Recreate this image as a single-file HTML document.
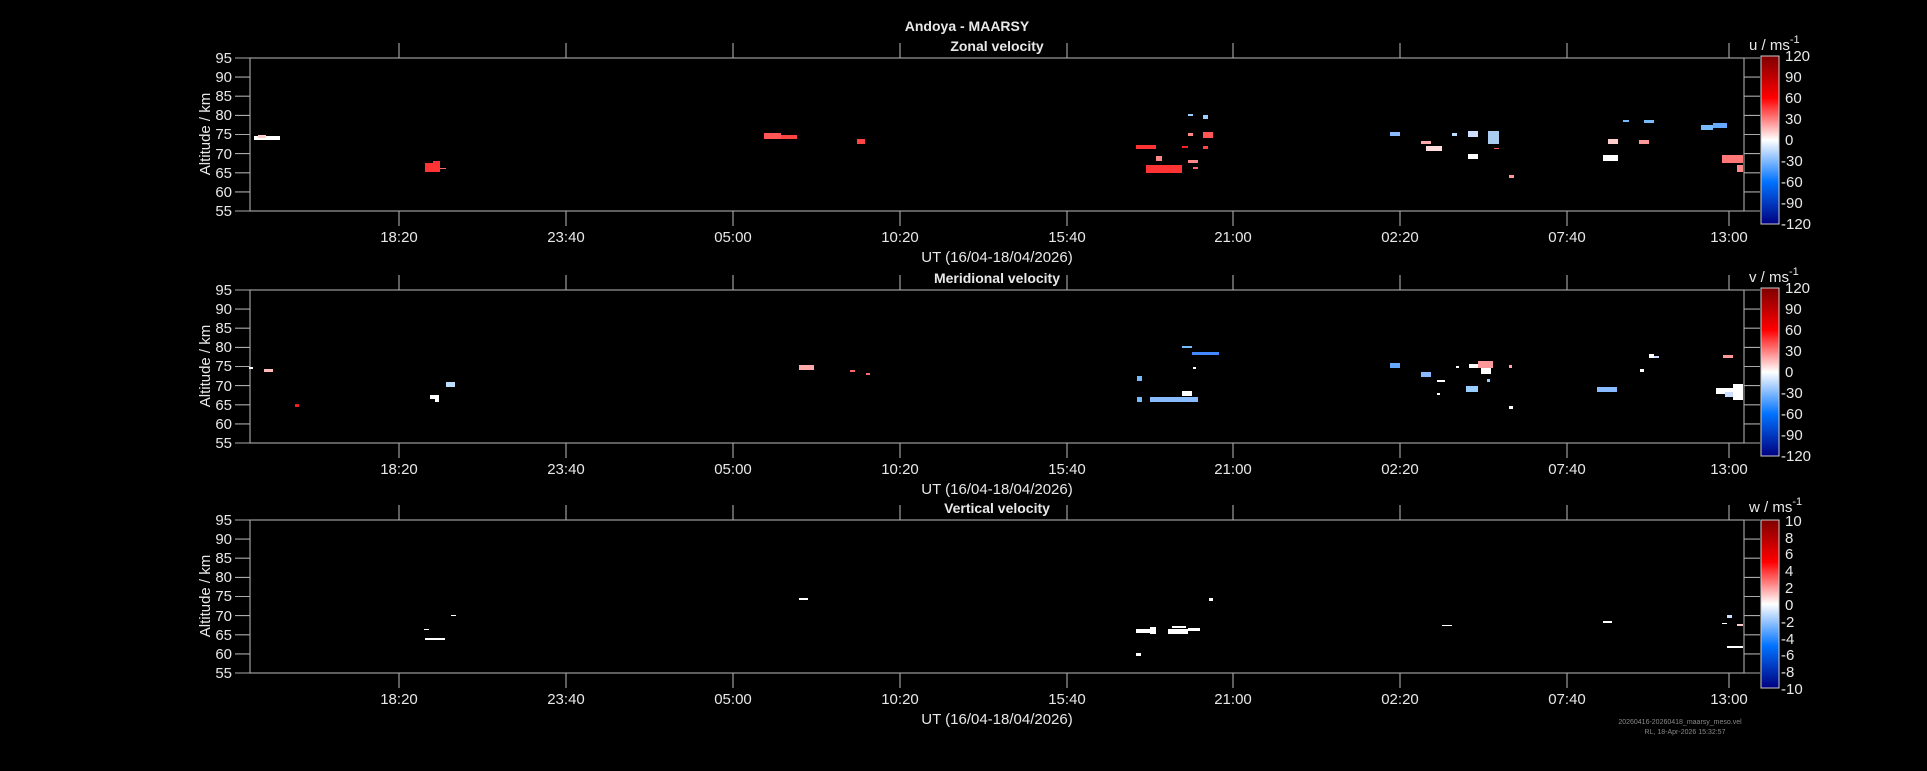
<!DOCTYPE html>
<html><head><meta charset="utf-8"><style>
html,body{margin:0;padding:0;background:#000;}
svg{display:block;font-family:"Liberation Sans",sans-serif;}
text{fill:#e8e8e8;font-size:15px;}
.b{font-weight:bold;font-size:14px;}
</style></head><body>
<svg width="1927" height="771" viewBox="0 0 1927 771" xmlns="http://www.w3.org/2000/svg">
<defs>
<linearGradient id="g" x1="0" y1="1" x2="0" y2="0">
<stop offset="0" stop-color="#00007f"/>
<stop offset="0.25" stop-color="#0072ff"/>
<stop offset="0.5" stop-color="#ffffff"/>
<stop offset="0.75" stop-color="#ff0000"/>
<stop offset="1" stop-color="#7f0000"/>
</linearGradient>
<g id="ax" stroke="#aaa" stroke-width="1.1" fill="none">
<rect x="250" y="0" width="1494" height="153"/>
<path d="M399 0v-15M566 0v-15M733 0v-15M900 0v-15M1067 0v-15M1233 0v-15M1400 0v-15M1567 0v-15M1729 0v-15
M399 153v15M566 153v15M733 153v15M900 153v15M1067 153v15M1233 153v15M1400 153v15M1567 153v15M1729 153v15
M235 0h15M235 19.1h15M235 38.2h15M235 57.4h15M235 76.5h15M235 95.6h15M235 114.8h15M235 133.9h15M235 153h15
M1744 0h16M1744 19.1h16M1744 38.2h16M1744 57.4h16M1744 76.5h16M1744 95.6h16M1744 114.8h16M1744 133.9h16M1744 153h16"/>
</g>
<g id="yl">
<text x="232" y="5" text-anchor="end">95</text><text x="232" y="24" text-anchor="end">90</text>
<text x="232" y="43" text-anchor="end">85</text><text x="232" y="62" text-anchor="end">80</text>
<text x="232" y="81" text-anchor="end">75</text><text x="232" y="101" text-anchor="end">70</text>
<text x="232" y="120" text-anchor="end">65</text><text x="232" y="139" text-anchor="end">60</text>
<text x="232" y="158" text-anchor="end">55</text>
<text transform="translate(210,76) rotate(-90)" text-anchor="middle">Altitude / km</text>
<g text-anchor="middle">
<text x="399" y="184">18:20</text><text x="566" y="184">23:40</text><text x="733" y="184">05:00</text>
<text x="900" y="184">10:20</text><text x="1067" y="184">15:40</text><text x="1233" y="184">21:00</text>
<text x="1400" y="184">02:20</text><text x="1567" y="184">07:40</text><text x="1729" y="184">13:00</text>
<text x="997" y="204">UT (16/04-18/04/2026)</text>
</g>
</g>
</defs>

<text class="b" x="967" y="31" text-anchor="middle">Andoya - MAARSY</text>

<!-- Panel 1 -->
<g transform="translate(0,58)"><use href="#ax"/><use href="#yl"/></g>
<text class="b" x="997" y="51" text-anchor="middle">Zonal velocity</text>
<rect x="1761" y="56" width="18" height="168" fill="url(#g)" stroke="#ccc"/>
<text x="1749" y="50">u / ms<tspan dy="-7" font-size="11">-1</tspan></text>
<g font-size="15">
<text x="1785" y="61">120</text><text x="1785" y="82">90</text><text x="1785" y="103">60</text><text x="1785" y="124">30</text><text x="1785" y="145">0</text><text x="1781" y="166">-30</text><text x="1781" y="187">-60</text><text x="1781" y="208">-90</text><text x="1781" y="229">-120</text>
</g>
<g>
<rect x="254" y="136" width="26" height="4" fill="#fff"/><rect x="258" y="135" width="8" height="3" fill="#fcc"/>
<rect x="425" y="163" width="15" height="9" fill="#f33"/><rect x="433" y="161" width="7" height="4" fill="#f33"/><rect x="440" y="168" width="6" height="1" fill="#f66"/>
<rect x="764" y="133" width="17" height="6" fill="#f55"/><rect x="781" y="135" width="16" height="4" fill="#f44"/>
<rect x="857" y="139" width="8" height="5" fill="#f44"/>
<rect x="1188" y="114" width="5" height="2" fill="#9cf"/><rect x="1203" y="115" width="5" height="4" fill="#9cf"/>
<rect x="1188" y="133" width="5" height="3" fill="#f88"/><rect x="1203" y="132" width="10" height="6" fill="#f55"/>
<rect x="1136" y="145" width="20" height="4" fill="#f33"/><rect x="1182" y="146" width="6" height="2" fill="#f22"/><rect x="1203" y="146" width="5" height="3" fill="#f44"/>
<rect x="1156" y="156" width="6" height="5" fill="#f88"/><rect x="1146" y="165" width="36" height="8" fill="#f33"/>
<rect x="1188" y="160" width="10" height="3" fill="#f88"/><rect x="1193" y="167" width="5" height="2" fill="#f66"/>
<rect x="1390" y="132" width="10" height="4" fill="#8bf"/><rect x="1421" y="141" width="10" height="3" fill="#faa"/>
<rect x="1426" y="146" width="16" height="5" fill="#fdd"/><rect x="1452" y="133" width="5" height="3" fill="#bdf"/>
<rect x="1468" y="131" width="10" height="6" fill="#cdf"/><rect x="1488" y="131" width="11" height="13" fill="#ace"/>
<rect x="1494" y="148" width="5" height="1" fill="#f55"/><rect x="1468" y="154" width="10" height="5" fill="#fff"/>
<rect x="1509" y="175" width="5" height="3" fill="#f99"/>
<rect x="1623" y="120" width="6" height="2" fill="#7bf"/><rect x="1644" y="120" width="10" height="3" fill="#7bf"/>
<rect x="1608" y="139" width="10" height="5" fill="#fcc"/><rect x="1639" y="140" width="10" height="4" fill="#f99"/>
<rect x="1603" y="155" width="15" height="6" fill="#fff"/>
<rect x="1701" y="125" width="12" height="5" fill="#7bf"/><rect x="1713" y="123" width="14" height="5" fill="#6af"/>
<rect x="1722" y="155" width="21" height="8" fill="#f77"/><rect x="1737" y="165" width="6" height="7" fill="#f88"/>
</g>

<!-- Panel 2 -->
<g transform="translate(0,290)"><use href="#ax"/><use href="#yl"/></g>
<text class="b" x="997" y="283" text-anchor="middle">Meridional velocity</text>
<rect x="1761" y="288" width="18" height="168" fill="url(#g)" stroke="#ccc"/>
<text x="1749" y="282">v / ms<tspan dy="-7" font-size="11">-1</tspan></text>
<g>
<text x="1785" y="293">120</text><text x="1785" y="314">90</text><text x="1785" y="335">60</text><text x="1785" y="356">30</text><text x="1785" y="377">0</text><text x="1781" y="398">-30</text><text x="1781" y="419">-60</text><text x="1781" y="440">-90</text><text x="1781" y="461">-120</text>
</g>
<g>
<rect x="249" y="367" width="4" height="2" fill="#fff"/><rect x="264" y="369" width="9" height="3" fill="#fbb"/>
<rect x="295" y="404" width="4" height="3" fill="#e22"/>
<rect x="430" y="395" width="9" height="4" fill="#fff"/><rect x="435" y="399" width="4" height="3" fill="#fff"/>
<rect x="446" y="382" width="9" height="5" fill="#bdf"/>
<rect x="799" y="365" width="15" height="5" fill="#faa"/><rect x="850" y="370" width="5" height="2" fill="#f66"/><rect x="866" y="373" width="4" height="2" fill="#f66"/>
<rect x="1137" y="376" width="5" height="5" fill="#7bf"/><rect x="1137" y="397" width="5" height="5" fill="#7bf"/>
<rect x="1150" y="397" width="48" height="5" fill="#8bf"/><rect x="1182" y="346" width="10" height="2" fill="#7bf"/>
<rect x="1192" y="352" width="27" height="3" fill="#48f"/><rect x="1193" y="367" width="3" height="2" fill="#fff"/>
<rect x="1182" y="391" width="10" height="5" fill="#fff"/>
<rect x="1390" y="363" width="10" height="5" fill="#6af"/><rect x="1421" y="372" width="10" height="5" fill="#8bf"/>
<rect x="1437" y="380" width="8" height="2" fill="#fff"/><rect x="1437" y="393" width="3" height="2" fill="#fff"/>
<rect x="1456" y="366" width="3" height="2" fill="#fff"/><rect x="1466" y="386" width="12" height="6" fill="#9cf"/>
<rect x="1469" y="364" width="12" height="4" fill="#fff"/><rect x="1478" y="361" width="15" height="7" fill="#f99"/><rect x="1481" y="368" width="10" height="6" fill="#fff"/>
<rect x="1487" y="379" width="3" height="3" fill="#9cf"/><rect x="1509" y="365" width="3" height="3" fill="#faa"/>
<rect x="1509" y="406" width="4" height="3" fill="#fff"/>
<rect x="1597" y="387" width="20" height="5" fill="#8bf"/><rect x="1640" y="369" width="4" height="3" fill="#fff"/>
<rect x="1649" y="354" width="5" height="4" fill="#fff"/><rect x="1654" y="356" width="5" height="2" fill="#cdf"/>
<rect x="1723" y="355" width="10" height="3" fill="#f99"/>
<rect x="1716" y="388" width="27" height="6" fill="#fff"/><rect x="1733" y="384" width="10" height="16" fill="#fff"/><rect x="1725" y="392" width="8" height="5" fill="#cdf"/>
</g>

<!-- Panel 3 -->
<g transform="translate(0,520)"><use href="#ax"/><use href="#yl"/></g>
<text class="b" x="997" y="513" text-anchor="middle">Vertical velocity</text>
<rect x="1761" y="520" width="18" height="168" fill="url(#g)" stroke="#ccc"/>
<text x="1749" y="512">w / ms<tspan dy="-7" font-size="11">-1</tspan></text>
<g>
<text x="1785" y="526">10</text><text x="1785" y="543">8</text><text x="1785" y="559">6</text><text x="1785" y="576">4</text><text x="1785" y="593">2</text><text x="1785" y="610">0</text><text x="1781" y="627">-2</text><text x="1781" y="644">-4</text><text x="1781" y="660">-6</text><text x="1781" y="677">-8</text><text x="1781" y="694">-10</text>
</g>
<g fill="#fff">
<rect x="424" y="629" width="5" height="1"/><rect x="425" y="638" width="20" height="2"/><rect x="451" y="615" width="5" height="1"/>
<rect x="799" y="598" width="9" height="2"/><rect x="1136" y="653" width="5" height="3"/>
<rect x="1136" y="629" width="14" height="4"/><rect x="1150" y="627" width="6" height="7"/>
<rect x="1168" y="629" width="20" height="5"/><rect x="1172" y="626" width="14" height="2"/><rect x="1188" y="628" width="12" height="3"/>
<rect x="1209" y="598" width="4" height="3"/><rect x="1442" y="625" width="10" height="1"/><rect x="1603" y="621" width="9" height="2"/>
<rect x="1727" y="615" width="5" height="3" fill="#cdf"/><rect x="1722" y="623" width="5" height="1"/>
<rect x="1737" y="624" width="6" height="2" fill="#fcc"/><rect x="1727" y="646" width="16" height="2"/>
</g>

<text x="1680" y="724" text-anchor="middle" style="font-size:7px;fill:#888">20260416-20260418_maarsy_meso.vel</text>
<text x="1685" y="734" text-anchor="middle" style="font-size:7px;fill:#888">RL, 18-Apr-2026 15:32:57</text>
</svg>
</body></html>
